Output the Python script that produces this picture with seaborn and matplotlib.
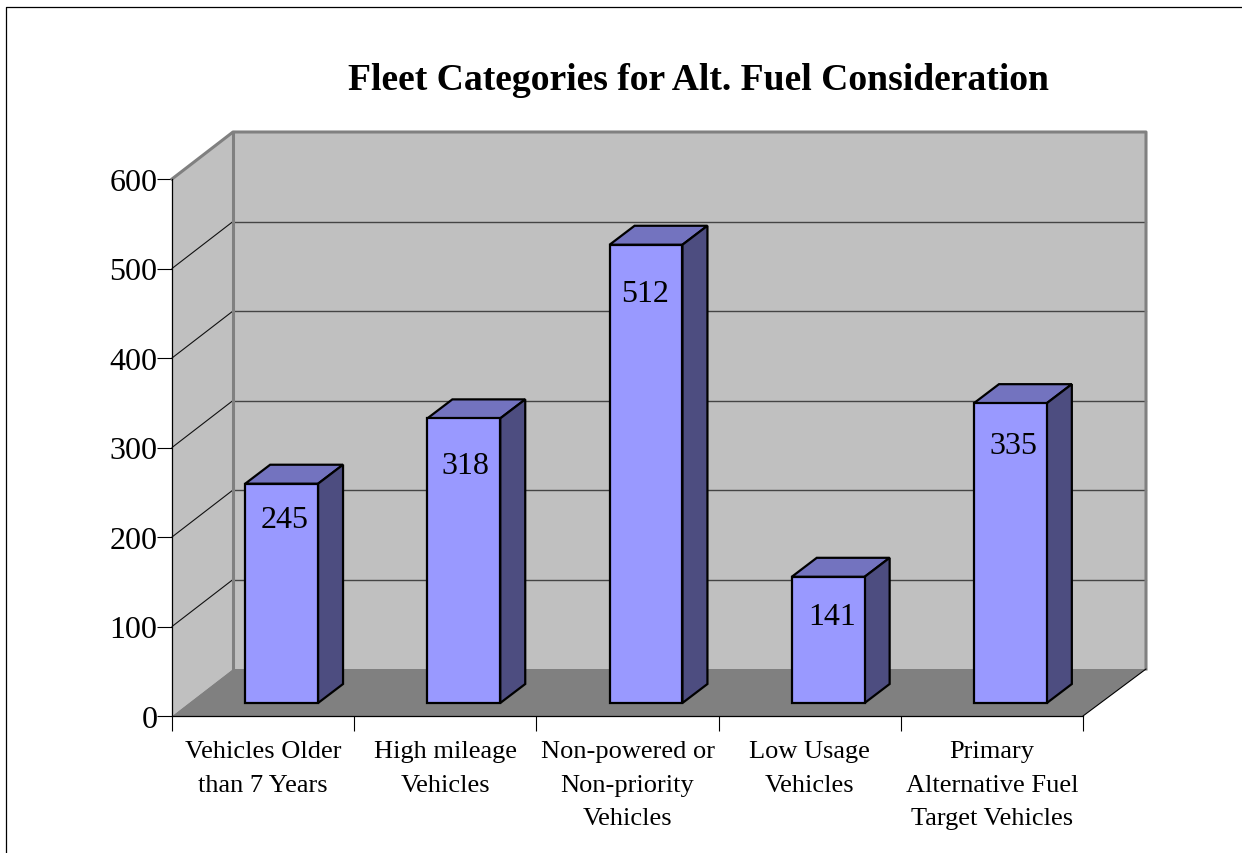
import numpy as np
import pandas as pd
import matplotlib
matplotlib.use("Agg")
import matplotlib.pyplot as plt
import seaborn as sns
from matplotlib.lines import Line2D
from matplotlib.patches import Polygon
from matplotlib.transforms import Affine2D, IdentityTransform

# chart values
categories = [
    "Vehicles Older\nthan 7 Years",
    "High mileage\nVehicles",
    "Non-powered or\nNon-priority\nVehicles",
    "Low Usage\nVehicles",
    "Primary\nAlternative Fuel\nTarget Vehicles",
]
vehicle_counts = [245, 318, 512, 141, 335]
y_ticks = [0, 100, 200, 300, 400, 500, 600]
title = "Fleet Categories for Alt. Fuel Consideration"

W, H = 1242, 854
WALL = (61, 47)      # depth of the fake 3d box, px
WALL_RIGHT_DX = 63   # back wall is a touch wider than the front
BAR_DEPTH = (25, 19)
BAR_SHIFT = (18.5, 13)
# where each value label sits relative to its bar top / centre, px
label_drop = [36, 47, 49, 40, 42]
label_nudge = [3, 2, -1, 4, 3]

sns.set_style("white")
plt.rcParams["font.family"] = ["Liberation Serif", "DejaVu Serif"]
plt.rcParams["text.color"] = "black"
plt.rcParams["xtick.labelcolor"] = "black"
plt.rcParams["ytick.labelcolor"] = "black"

fig = plt.figure(figsize=(W / 100, H / 100), dpi=100)
ax = fig.add_axes([172 / W, 1 - 717 / H, (1083 - 172) / W, (716 - 179) / H])
ax.patch.set_visible(False)

df = pd.DataFrame({"category": categories, "count": vehicle_counts})
sns.barplot(data=df, x="category", y="count", width=0.4, color="#9999FF",
            saturation=1, edgecolor="black", linewidth=1.6, ax=ax, zorder=5)
ax.set_xlim(-0.5, 4.5)
ax.set_ylim(0, 600)
ax.set_xlabel("")
ax.set_ylabel("")

# walls and floor, worked out from the axes corners
to_px = ax.transData.transform
px = IdentityTransform()
dx, dy = WALL


def poly(points, **kw):
    ax.add_patch(Polygon(points, closed=True, transform=px, clip_on=False, **kw))


(x0, y0), (x1, y1) = to_px([(-0.5, 0), (4.5, 600)])
back_r = x1 + WALL_RIGHT_DX
poly([(x0, y0), (x0 + dx, y0 + dy), (x0 + dx, y1 + dy), (x0, y1)],
     facecolor="#C0C0C0", edgecolor="none", zorder=1)
poly([(x0 + dx, y0 + dy), (back_r, y0 + dy), (back_r, y1 + dy), (x0 + dx, y1 + dy)],
     facecolor="#C0C0C0", edgecolor="none", zorder=1)
poly([(x0, y0), (x1, y0), (back_r, y0 + dy), (x0 + dx, y0 + dy)],
     facecolor="#808080", edgecolor="none", zorder=1.5)

# wall outline
wall_line = dict(color="#808080", lw=2.2, transform=px, clip_on=False, zorder=2,
                 solid_capstyle="projecting")
ax.add_line(Line2D([x0, x0 + dx, back_r, back_r],
                   [y1, y1 + dy, y1 + dy, y0 + dy], **wall_line))
ax.add_line(Line2D([x0 + dx, x0 + dx], [y0 + dy, y1 + dy], **wall_line))

# gridlines on both walls
for t in y_ticks[1:-1]:
    ty = to_px((0, t))[1]
    ax.add_line(Line2D([x0, x0 + dx], [ty, ty + dy], color="#111111", lw=0.8,
                       transform=px, clip_on=False, zorder=1.8))
    ax.add_line(Line2D([x0 + dx, back_r], [ty + dy, ty + dy], color="#444444", lw=1.0,
                       transform=px, clip_on=False, zorder=1.8))
# floor right edge
ax.add_line(Line2D([x1, back_r], [y0, y0 + dy], color="black", lw=0.8,
                   transform=px, clip_on=False, zorder=2))

# push the seaborn bars back onto the floor and give them top and side faces
sx, sy = BAR_SHIFT
bx, by = BAR_DEPTH
for bar, value, drop, nudge in zip(ax.patches[:len(vehicle_counts)], vehicle_counts,
                                   label_drop, label_nudge):
    bar.set_transform(ax.transData + Affine2D().translate(sx, sy))
    bar.set_clip_on(False)
    bar.set_joinstyle("miter")
    (l, b), (r, t) = to_px([(bar.get_x(), 0), (bar.get_x() + bar.get_width(), value)])
    l, r, b, t = l + sx, r + sx, b + sy, t + sy
    poly([(l, t), (r, t), (r + bx, t + by), (l + bx, t + by)],
         facecolor="#7373BF", edgecolor="black", linewidth=1.6, zorder=4,
         joinstyle="miter")
    poly([(r, b), (r + bx, b + by), (r + bx, t + by), (r, t)],
         facecolor="#4D4D80", edgecolor="black", linewidth=1.6, zorder=4,
         joinstyle="miter")
    ax.text((l + r) / 2 + nudge, t - drop, str(value), transform=px, ha="center",
            va="center", fontsize=23, color="black", zorder=6)

# axes
sns.despine(ax=ax, top=True, right=True)
for side in ("left", "bottom"):
    ax.spines[side].set_color("black")
    ax.spines[side].set_linewidth(0.9)
    ax.spines[side].set_zorder(3)
ax.set_yticks(y_ticks)
ax.tick_params(axis="y", which="major", left=True, length=11, width=0.8,
               color="black", labelsize=23, pad=-0.5)
ax.set_xticks(np.arange(-0.5, 5), labels=[""] * 6)
ax.set_xticks(range(len(categories)), labels=categories, minor=True)
ax.tick_params(axis="x", which="major", bottom=True, length=11, width=0.8, color="black")
ax.tick_params(axis="x", which="minor", bottom=False, length=0, labelsize=19, pad=17.5)
for lab in ax.get_xticklabels(minor=True):
    lab.set_linespacing(1.67)

fig.text(699 / W, 1 - 81 / H, title, ha="center", va="center",
         fontsize=27.1, fontweight="bold", color="black")

# chart frame, only left and top fall inside the picture
fig.add_artist(Line2D([6 / W, 6 / W, 1], [0, 1 - 8 / H, 1 - 8 / H], color="black", lw=0.9,
                      transform=fig.transFigure))

fig.savefig("out.png", dpi=100, facecolor="white")
